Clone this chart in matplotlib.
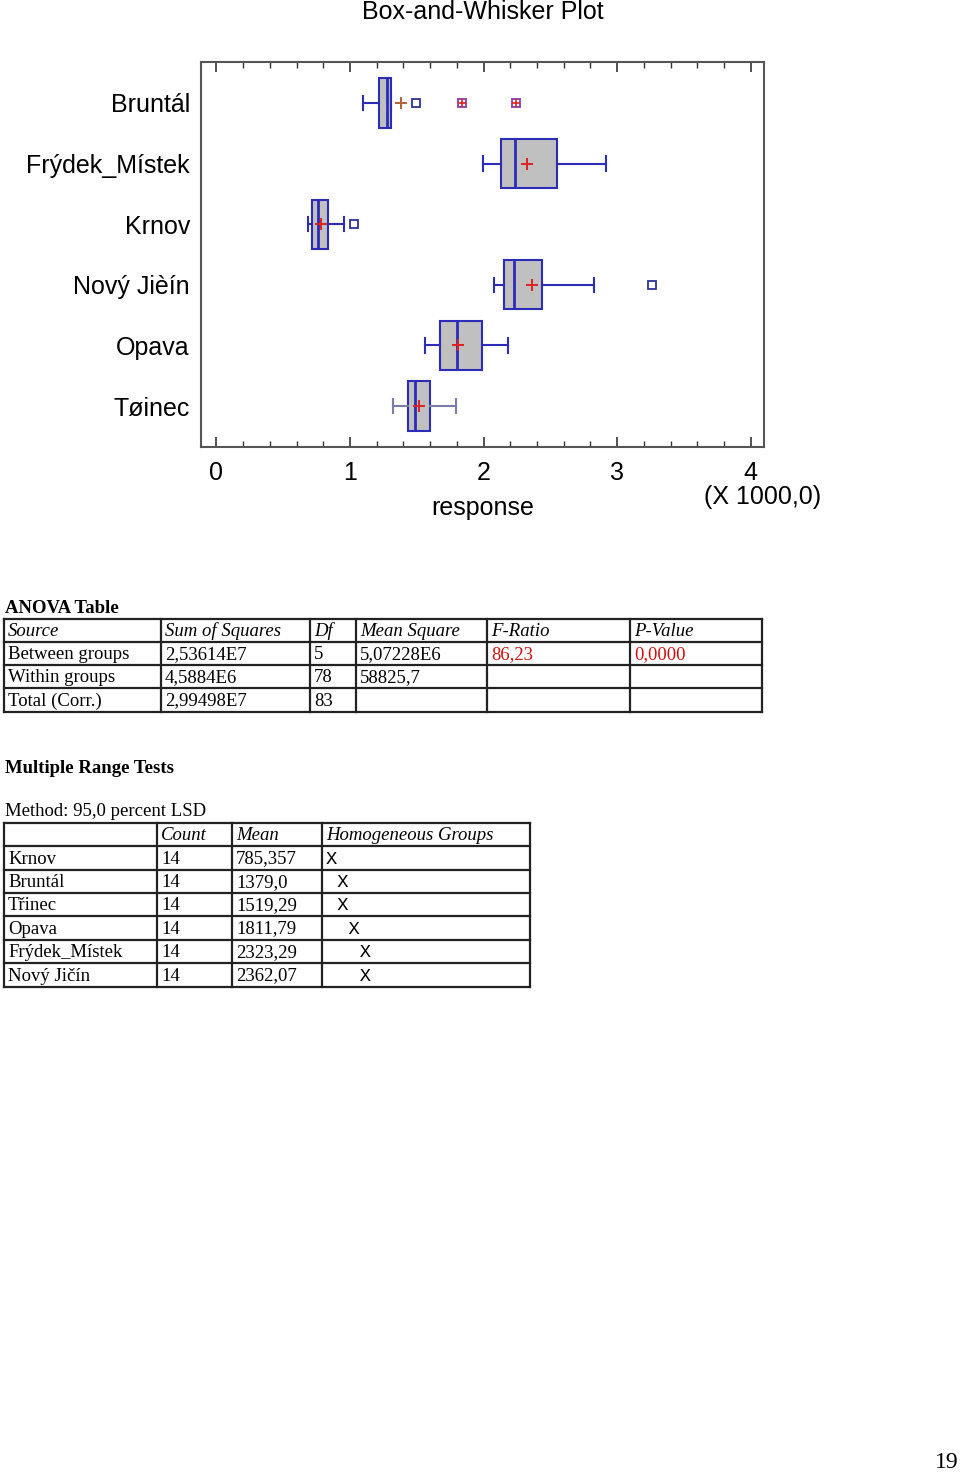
import matplotlib
matplotlib.use("Agg")
import matplotlib.pyplot as plt
from matplotlib import font_manager as fm
from matplotlib.ticker import MultipleLocator, FixedLocator, FixedFormatter

# ---------------- data ----------------
groups = ["Bruntál", "Frýdek_Místek", "Krnov", "Nový Jièín", "Opava", "Tøinec"]
whislo = [1100, 1993, 686, 2078, 1564, 1326]
q1 = [1215, 2133, 714, 2157, 1671, 1433]
med = [1280, 2234, 760, 2228, 1799, 1490]
q3 = [1308, 2551, 839, 2439, 1991, 1602]
whishi = [1308, 2918, 957, 2827, 2185, 1794]
means = [1379.0, 2323.29, 785.357, 2362.07, 1811.79, 1519.29]
outside = [[1495], [], [1028], [3262], [], []]
far_outside = [[1840, 2245], [], [], [], [], []]

x_ticks = [0, 1000, 2000, 3000, 4000]
x_tick_labels = ["0", "1", "2", "3", "4"]

anova_title = "ANOVA Table"
anova_header = ["Source", "Sum of Squares", "Df", "Mean Square", "F-Ratio", "P-Value"]
anova_source = ["Between groups", "Within groups", "Total (Corr.)"]
anova_ss = ["2,53614E7", "4,5884E6", "2,99498E7"]
anova_df = ["5", "78", "83"]
anova_ms = ["5,07228E6", "58825,7", ""]
anova_f = ["86,23", "", ""]
anova_p = ["0,0000", "", ""]

mrt_title = "Multiple Range Tests"
mrt_method = "Method: 95,0 percent LSD"
mrt_header = ["", "Count", "Mean", "Homogeneous Groups"]
mrt_levels = ["Krnov", "Bruntál", "Třinec", "Opava", "Frýdek_Místek", "Nový Jičín"]
mrt_count = ["14", "14", "14", "14", "14", "14"]
mrt_mean = ["785,357", "1379,0", "1519,29", "1811,79", "2323,29", "2362,07"]
mrt_groups = ["X", " X", " X", "  X", "   X", "   X"]
page_number = "19"

# ---------------- fonts ----------------
names = {f.name for f in fm.fontManager.ttflist}
if "Liberation Sans Narrow" in names:
    SANS = ["Liberation Sans Narrow", "DejaVu Sans"]
    SANS_SIZE = 22
else:
    SANS = ["Liberation Sans", "DejaVu Sans"]
    SANS_SIZE = 18
SERIF = ["Liberation Serif", "DejaVu Serif"]
MONO = ["Liberation Mono", "DejaVu Sans Mono"]

W, H = 960, 1474
fig = plt.figure(figsize=(W / 100, H / 100), dpi=100)

def fx(px):
    return px / W

def fy(py):
    return 1 - py / H

# ---------------- box plot ----------------
L, R, T, B = 201, 764, 62, 447
ax = fig.add_axes([fx(L), fy(B), fx(R - L), (B - T) / H])

BLUE = "#2c2cb8"
pos = list(range(len(groups)))
stats = []
for i, g in enumerate(groups):
    stats.append(dict(label=g, whislo=whislo[i], q1=q1[i], med=med[i],
                      q3=q3[i], whishi=whishi[i], mean=means[i],
                      fliers=outside[i]))

kw = dict(positions=pos, widths=0.81, capwidths=0.24, patch_artist=True,
          showmeans=True, showfliers=True,
          boxprops=dict(facecolor="#c0c0c0", edgecolor=BLUE, linewidth=1.5),
          medianprops=dict(color=BLUE, linewidth=2.0),
          whiskerprops=dict(color=BLUE, linewidth=1.5),
          capprops=dict(color=BLUE, linewidth=1.5),
          meanprops=dict(marker="+", markeredgecolor="#dd2222",
                         markersize=9, markeredgewidth=1.4),
          flierprops=dict(marker="s", markerfacecolor="none",
                          markeredgecolor="#30309a", markersize=6,
                          markeredgewidth=1.3))
try:
    art = ax.bxp(stats, orientation="horizontal", **kw)
except TypeError:
    art = ax.bxp(stats, vert=False, **kw)

# lighter whiskers for Tøinec, brownish mean for Bruntál (as in reference)
for ln in art["whiskers"][10:12] + art["caps"][10:12]:
    ln.set_color("#7c7caa")
art["means"][0].set_markeredgecolor("#b0603a")

for i, vals in enumerate(far_outside):
    for v in vals:
        ax.plot([v], [pos[i]], marker="s", markerfacecolor="none",
                markeredgecolor="#8a3aa8", markersize=6, markeredgewidth=1.3)
        ax.plot([v], [pos[i]], marker="+", markeredgecolor="#dd2222",
                markersize=6, markeredgewidth=1.2)

ax.set_xlim(-115, 4100)
ax.set_ylim(len(groups) - 1 + 0.676, -0.676)
ax.xaxis.set_major_locator(FixedLocator(x_ticks))
ax.xaxis.set_major_formatter(FixedFormatter(x_tick_labels))
ax.xaxis.set_minor_locator(MultipleLocator(200))
ax.tick_params(axis="x", which="both", direction="in", top=True, bottom=True,
               labeltop=False, color="#333333")
ax.tick_params(axis="x", which="major", length=7, width=1.2, pad=10,
               labelsize=SANS_SIZE)
ax.tick_params(axis="x", which="minor", length=4, width=1.0)
for lab in ax.get_xticklabels():
    lab.set_family(SANS)
ax.set_yticks(pos)
ax.set_yticklabels(groups, family=SANS, fontsize=SANS_SIZE)
ax.tick_params(axis="y", length=0, pad=8)
for sp in ax.spines.values():
    sp.set_color("#555555")
    sp.set_linewidth(1.5)

fig.text(fx(483), fy(12), "Box-and-Whisker Plot", ha="center", va="center",
         family=SANS, fontsize=SANS_SIZE)
fig.text(fx(483), fy(508), "response", ha="center", va="center",
         family=SANS, fontsize=SANS_SIZE)
fig.text(fx(763), fy(497), "(X 1000,0)", ha="center", va="center",
         family=SANS, fontsize=SANS_SIZE)

# ---------------- tables (pixel coordinates overlay) ----------------
ov = fig.add_axes([0, 0, 1, 1], facecolor="none")
ov.set_xlim(0, W)
ov.set_ylim(H, 0)
ov.axis("off")

TS = 13.5
LW = 1.6

def table_grid(xs, ys):
    for y in ys:
        ov.plot([xs[0], xs[-1]], [y, y], color="#222222", lw=LW,
                solid_capstyle="projecting")
    for x in xs:
        ov.plot([x, x], [ys[0], ys[-1]], color="#222222", lw=LW,
                solid_capstyle="projecting")

def cell(x, y0, y1, s, **kw):
    ov.text(x + 4, (y0 + y1) / 2 + 1, s, ha="left", va="center",
            fontsize=kw.pop("fontsize", TS), family=kw.pop("family", SERIF), **kw)

# ANOVA table
ov.text(5, 608, anova_title, ha="left", va="center", family=SERIF,
        fontsize=TS, fontweight="bold")
axs = [4, 161, 310, 356, 487, 630, 762]
ays = [619, 642, 665, 688, 712]
table_grid(axs, ays)
for j, h in enumerate(anova_header):
    cell(axs[j], ays[0], ays[1], h, style="italic")
cols = [anova_source, anova_ss, anova_df, anova_ms, anova_f, anova_p]
for r in range(len(anova_source)):
    for j, col in enumerate(cols):
        color = "#cc1111" if j >= 4 else "black"
        cell(axs[j], ays[r + 1], ays[r + 2], col[r], color=color)

# Multiple range tests
ov.text(5, 768, mrt_title, ha="left", va="center", family=SERIF,
        fontsize=TS, fontweight="bold")
ov.text(5, 811, mrt_method, ha="left", va="center", family=SERIF, fontsize=TS)
mxs = [4, 157, 232, 322, 530]
mys = [823, 846, 870, 893, 916, 940, 963, 987]
table_grid(mxs, mys)
for j, h in enumerate(mrt_header):
    cell(mxs[j], mys[0], mys[1], h, style="italic")
for r in range(len(mrt_levels)):
    cell(mxs[0], mys[r + 1], mys[r + 2], mrt_levels[r])
    cell(mxs[1], mys[r + 1], mys[r + 2], mrt_count[r])
    cell(mxs[2], mys[r + 1], mys[r + 2], mrt_mean[r])
    ov.text(mxs[3] + 4, (mys[r + 1] + mys[r + 2]) / 2 + 1, mrt_groups[r],
            ha="left", va="center", family=MONO, fontsize=13.5)

ov.text(959, 1463, page_number, ha="right", va="center", family=SERIF,
        fontsize=17)

fig.savefig("out.png", dpi=100)
